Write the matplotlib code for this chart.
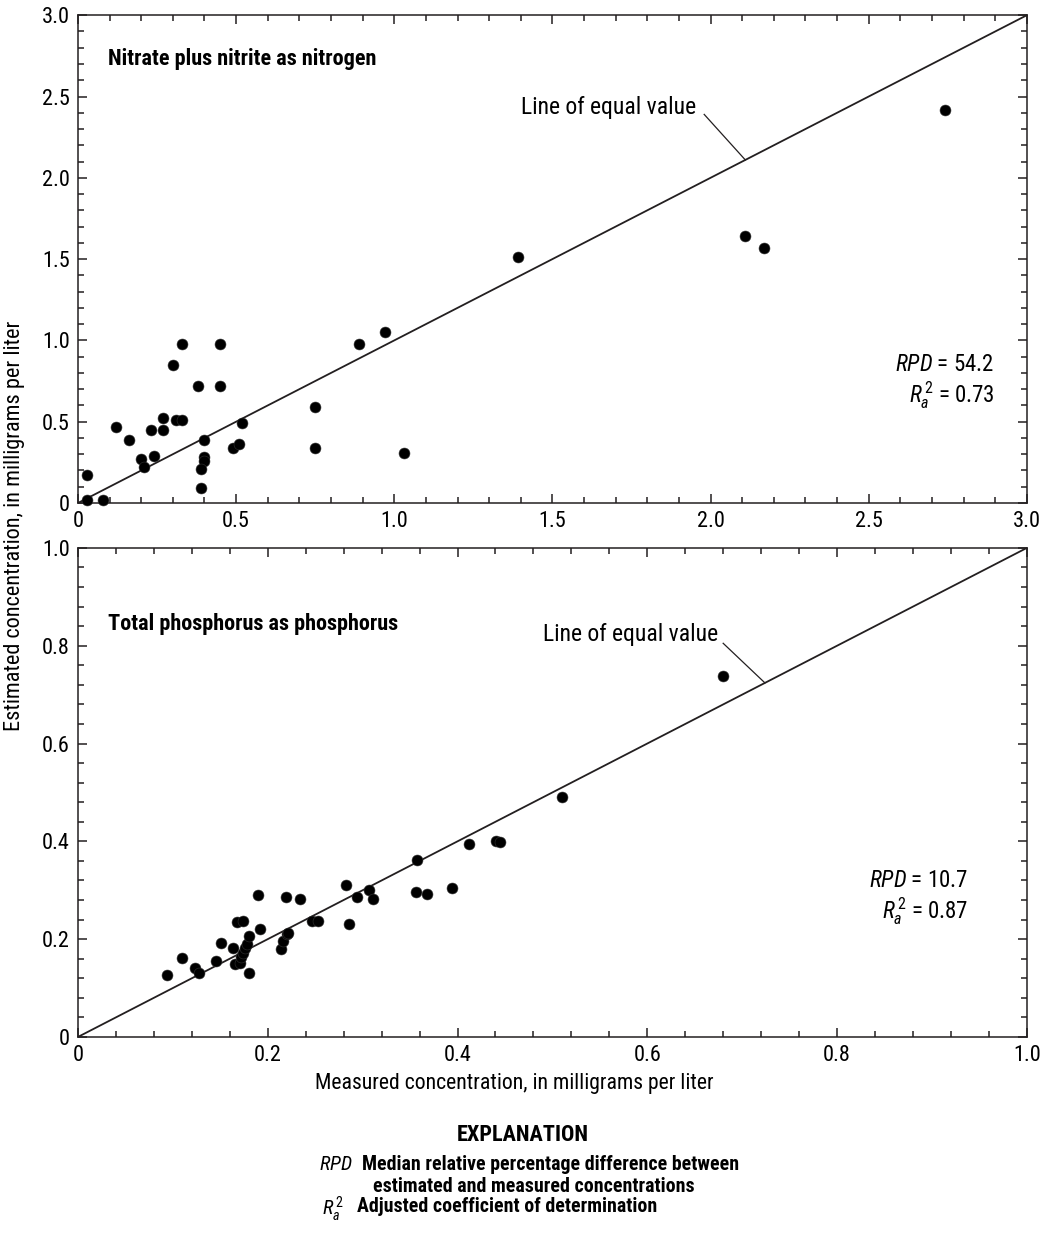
import matplotlib
matplotlib.use("Agg")
import matplotlib.pyplot as plt
from matplotlib import font_manager as fm
from matplotlib.ticker import MultipleLocator, FuncFormatter


def pick_narrow_font():
    # the reference uses a condensed sans; take the best one that is installed
    entries = fm.fontManager.ttflist
    names = {f.name for f in entries}
    for name in ["Liberation Sans Narrow", "Roboto Condensed", "Noto Sans Condensed",
                 "Open Sans Condensed", "DejaVu Sans Condensed", "Arial Narrow"]:
        if name in names:
            return name, "normal"
    for name in ["Roboto", "Noto Sans", "Open Sans", "DejaVu Sans", "Liberation Sans"]:
        for f in entries:
            if f.name == name and "condensed" in str(f.stretch) and "semi" not in str(f.stretch) \
                    and "extra" not in str(f.stretch) and "ultra" not in str(f.stretch):
                return name, "condensed"
    return "Roboto", "normal"


FONT, STRETCH = pick_narrow_font()
plt.rcParams["font.family"] = [FONT, "DejaVu Sans"]
plt.rcParams["font.stretch"] = STRETCH
plt.rcParams["mathtext.fontset"] = "custom"
plt.rcParams["mathtext.rm"] = FONT
plt.rcParams["mathtext.it"] = FONT + ":italic"
plt.rcParams["mathtext.bf"] = FONT + ":bold"

# Nitrate plus nitrite as nitrogen (mg/L)
nitrate_measured = [0.03, 0.03, 0.08, 0.12, 0.16, 0.20, 0.21, 0.24, 0.23, 0.27,
                    0.27, 0.30, 0.33, 0.31, 0.33, 0.45, 0.38, 0.45, 0.40, 0.40,
                    0.40, 0.39, 0.39, 0.49, 0.51, 0.52, 0.75, 0.75, 0.89, 0.97,
                    1.03, 1.39, 2.11, 2.17, 2.74]
nitrate_estimated = [0.17, 0.02, 0.02, 0.47, 0.39, 0.27, 0.22, 0.29, 0.45, 0.52,
                     0.45, 0.85, 0.98, 0.51, 0.51, 0.98, 0.72, 0.72, 0.39, 0.28,
                     0.26, 0.21, 0.09, 0.34, 0.36, 0.49, 0.59, 0.34, 0.98, 1.05,
                     0.31, 1.51, 1.64, 1.57, 2.42]

# Total phosphorus as phosphorus (mg/L)
phos_measured = [0.094, 0.110, 0.123, 0.128, 0.145, 0.151, 0.163, 0.165, 0.171, 0.168,
                 0.174, 0.172, 0.174, 0.176, 0.178, 0.180, 0.180, 0.190, 0.192, 0.214,
                 0.216, 0.220, 0.221, 0.219, 0.234, 0.247, 0.253, 0.283, 0.286, 0.294,
                 0.307, 0.311, 0.357, 0.356, 0.368, 0.394, 0.412, 0.441, 0.445, 0.510,
                 0.680]
phos_estimated = [0.127, 0.162, 0.142, 0.130, 0.156, 0.192, 0.182, 0.149, 0.152, 0.236,
                  0.238, 0.164, 0.171, 0.181, 0.190, 0.207, 0.130, 0.290, 0.221, 0.180,
                  0.197, 0.210, 0.213, 0.286, 0.283, 0.237, 0.238, 0.311, 0.230, 0.287,
                  0.301, 0.283, 0.361, 0.297, 0.292, 0.305, 0.395, 0.401, 0.398, 0.490,
                  0.738]

panels = [
    dict(title="Nitrate plus nitrite as nitrogen", x=nitrate_measured, y=nitrate_estimated,
         lim=3.0, major=0.5, minor=0.1, rpd="54.2", r2="0.73",
         title_y=0.91, label_xy=(1.40, 2.435), lead_start=(1.98, 2.39), lead_end=(2.11, 2.11),
         stats_xy=(0.966, 0.283)),
    dict(title="Total phosphorus as phosphorus", x=phos_measured, y=phos_estimated,
         lim=1.0, major=0.2, minor=0.04, rpd="10.7", r2="0.87",
         title_y=0.845, label_xy=(0.49, 0.822), lead_start=(0.68, 0.805), lead_end=(0.724, 0.724),
         stats_xy=(0.938, 0.32)),
]

fig = plt.figure(figsize=(10.45, 12.38), dpi=100)
ax_top = fig.add_axes([0.0746, 0.5937, 0.908, 0.394])
ax_bot = fig.add_axes([0.0746, 0.1624, 0.908, 0.395])


def fmt(v, pos):
    return "0" if abs(v) < 1e-9 else f"{v:.1f}"


for ax, p in zip([ax_top, ax_bot], panels):
    lim = p["lim"]
    ax.plot([0, lim], [0, lim], color="#231f20", lw=1.3, zorder=2)
    ax.scatter(p["x"], p["y"], s=62, color="black", edgecolors="#333333",
               linewidths=0.4, zorder=3, clip_on=False)
    ax.set_xlim(0, lim)
    ax.set_ylim(0, lim)
    for a in (ax.xaxis, ax.yaxis):
        a.set_major_locator(MultipleLocator(p["major"]))
        a.set_minor_locator(MultipleLocator(p["minor"]))
        a.set_major_formatter(FuncFormatter(fmt))
    ax.tick_params(which="both", direction="in", top=True, right=True,
                   width=1.1, color="#231f20", labelsize=16, pad=6)
    ax.tick_params(which="major", length=6.5)
    ax.tick_params(which="minor", length=4.5)
    for s in ax.spines.values():
        s.set_linewidth(1.1)
        s.set_color("#231f20")

    ax.text(0.032, p["title_y"], p["title"], transform=ax.transAxes,
            fontsize=16, fontweight="bold", va="center", ha="left")
    ax.text(*p["label_xy"], "Line of equal value", fontsize=17, va="center", ha="left")
    ax.plot([p["lead_start"][0], p["lead_end"][0]], [p["lead_start"][1], p["lead_end"][1]],
            color="#231f20", lw=0.9)
    sx, sy = p["stats_xy"]
    ax.text(sx, sy, r"$RPD$ = " + p["rpd"], transform=ax.transAxes,
            fontsize=16.5, ha="right", va="center")
    ax.text(sx, sy - 0.062, r"$R_{a}^{\,2}$ = " + p["r2"], transform=ax.transAxes,
            fontsize=16.5, ha="right", va="center")

fig.text(514 / 1045, 1 - 1084 / 1238, "Measured concentration, in milligrams per liter",
         fontsize=15.7, ha="center", va="center")
fig.text(0.014, 1 - 526 / 1238, "Estimated concentration, in milligrams per liter",
         rotation=90, fontsize=16, ha="center", va="center")

# Explanation block
fig.text(0.5, 1 - 1135 / 1238, "EXPLANATION", fontsize=16, fontweight="bold",
         ha="center", va="center")
fig.text(0.337, 1 - 1165 / 1238, r"$RPD$", fontsize=14.5, ha="right", va="center")
fig.text(0.346, 1 - 1165 / 1238, "Median relative percentage difference between",
         fontsize=14.3, fontweight="bold", ha="left", va="center")
fig.text(0.5105, 1 - 1186 / 1238, "estimated and measured concentrations",
         fontsize=14.3, fontweight="bold", ha="center", va="center")
fig.text(0.308, 1 - 1209 / 1238, r"$R_{a}^{\,2}$", fontsize=14.5, ha="left", va="center")
fig.text(0.342, 1 - 1207 / 1238, "Adjusted coefficient of determination",
         fontsize=14.3, fontweight="bold", ha="left", va="center")

fig.savefig("out.png", dpi=100)
